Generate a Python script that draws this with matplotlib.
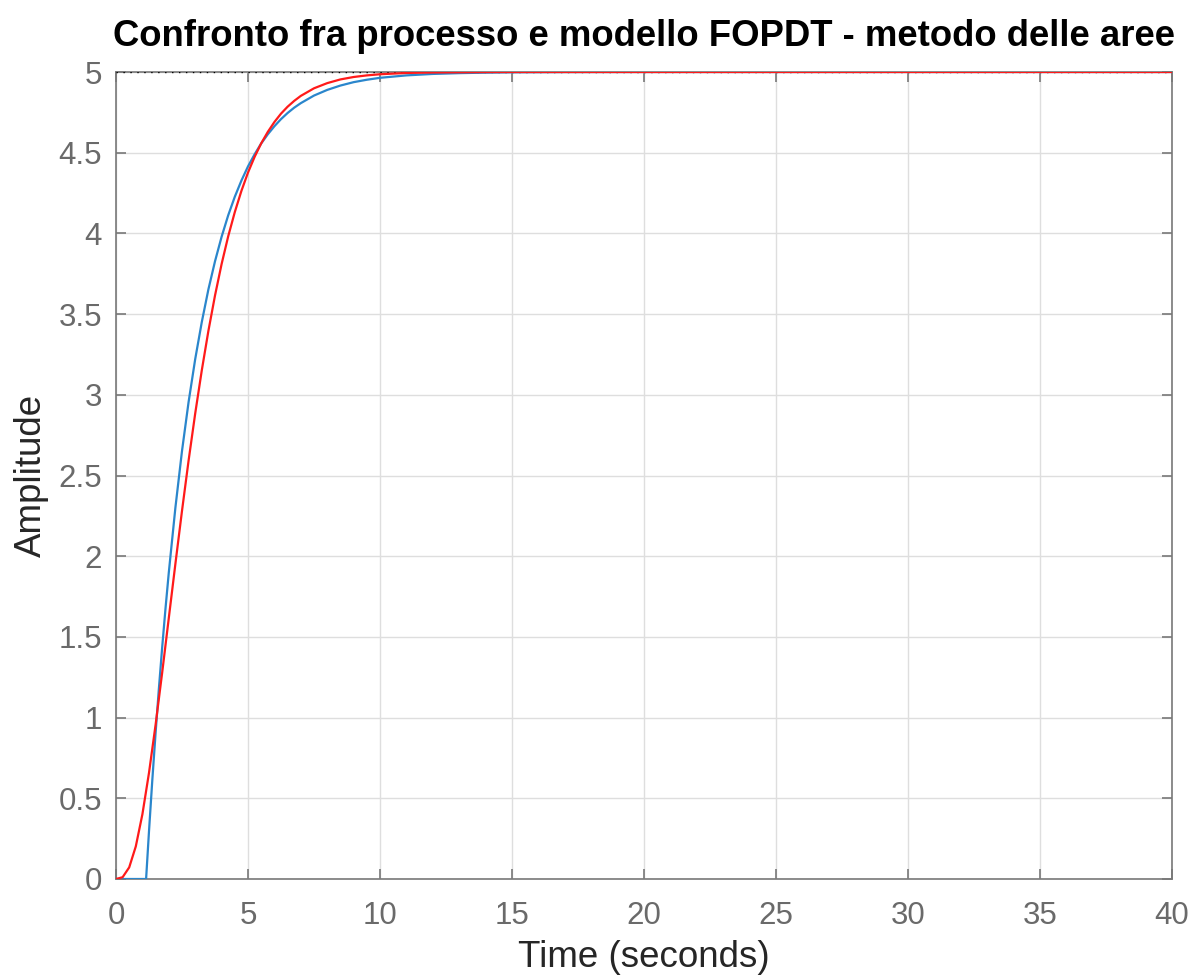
import matplotlib
matplotlib.use("Agg")
import matplotlib.pyplot as plt

# Process step response (red)
t_proc = [0, 0.25, 0.5, 0.75, 1.0, 1.25, 1.5, 1.75, 2.0, 2.25, 2.5, 2.75, 3.0,
          3.25, 3.5, 3.75, 4.0, 4.25, 4.5, 4.75, 5.0, 5.25, 5.5, 5.75, 6.0,
          6.25, 6.5, 6.75, 7.0, 7.5, 8.0, 8.5, 9.0, 9.5, 10.0, 11.0,
          12.0, 14.0, 15.0, 40.0]
y_proc = [0, 0.011, 0.072, 0.202, 0.401, 0.658, 0.956, 1.280, 1.617, 1.953,
          2.281, 2.593, 2.884, 3.152, 3.396, 3.615, 3.810, 3.982, 4.132, 4.263,
          4.377, 4.474, 4.558, 4.629, 4.690, 4.742, 4.785, 4.821, 4.852, 4.899,
          4.931, 4.954, 4.969, 4.979, 4.986, 4.994, 4.997, 4.9995, 5.0, 5.0]

# FOPDT model step response (blue)
t_model = [0, 1.14, 1.25, 1.375, 1.5, 1.625, 1.75, 1.875, 2.0, 2.25, 2.5, 2.75,
           3.0, 3.25, 3.5, 3.75, 4.0, 4.25, 4.5, 4.75, 5.0, 5.25, 5.5, 5.75,
           6.0, 6.25, 6.5, 6.75, 7.0, 7.5, 8.0, 8.5, 9.0, 9.5, 10.0, 11.0,
           12.0, 13.0, 14.0, 15.0, 17.0, 20.0, 40.0]
y_model = [0, 0, 0.296, 0.612, 0.906, 1.181, 1.437, 1.676, 1.899, 2.301, 2.652,
           2.956, 3.221, 3.451, 3.653, 3.827, 3.979, 4.112, 4.227, 4.327, 4.415,
           4.490, 4.557, 4.614, 4.664, 4.708, 4.746, 4.779, 4.807, 4.854, 4.889,
           4.916, 4.937, 4.952, 4.964, 4.979, 4.988, 4.993, 4.996, 4.998,
           4.9995, 5.0, 5.0]

final_value = 5.0
x_ticks = [0, 5, 10, 15, 20, 25, 30, 35, 40]
y_ticks = [0, 0.5, 1, 1.5, 2, 2.5, 3, 3.5, 4, 4.5, 5]
y_tick_labels = ["0", "0.5", "1", "1.5", "2", "2.5", "3", "3.5", "4", "4.5", "5"]

plt.rcParams['font.family'] = ['Liberation Sans', 'DejaVu Sans']

fig = plt.figure(figsize=(11.96, 9.76), dpi=100)
ax = fig.add_axes([116/1196, 1 - 879/976, (1172-116)/1196, (879-72)/976])

axis_gray = '#787878'
tick_gray = '#6a6a6a'

ax.grid(True, color='#dedede', linewidth=1.0)
ax.set_axisbelow(True)

ax.plot([0, 40], [final_value, final_value], linestyle=(0, (1, 4)), color='black',
        linewidth=1.0, zorder=3)
ax.plot(t_model, y_model, color='#2a86cc', linewidth=1.6, zorder=4)
ax.plot(t_proc, y_proc, color='#ff1a1a', linewidth=1.6, zorder=5)

ax.set_xlim(0, 40)
ax.set_ylim(0, 5)
ax.set_xticks(x_ticks)
ax.set_yticks(y_ticks)
ax.set_yticklabels(y_tick_labels)

for s in ax.spines.values():
    s.set_color(axis_gray)
    s.set_linewidth(1.2)

ax.tick_params(direction='in', length=7, width=1.2, color=axis_gray,
               labelsize=22.5, labelcolor=tick_gray, top=True, right=True)
ax.tick_params(axis='x', pad=15.5)
ax.tick_params(axis='y', pad=10)

ax.set_xlabel('Time (seconds)', fontsize=26.5, color='#262626', labelpad=7)
ax.set_ylabel('Amplitude', fontsize=26.5, color='#262626', labelpad=7)
ax.set_title('Confronto fra processo e modello FOPDT - metodo delle aree',
             fontsize=26.3, fontweight='bold', color='black', pad=18.5)

fig.savefig('out.png', dpi=100, facecolor='white')
